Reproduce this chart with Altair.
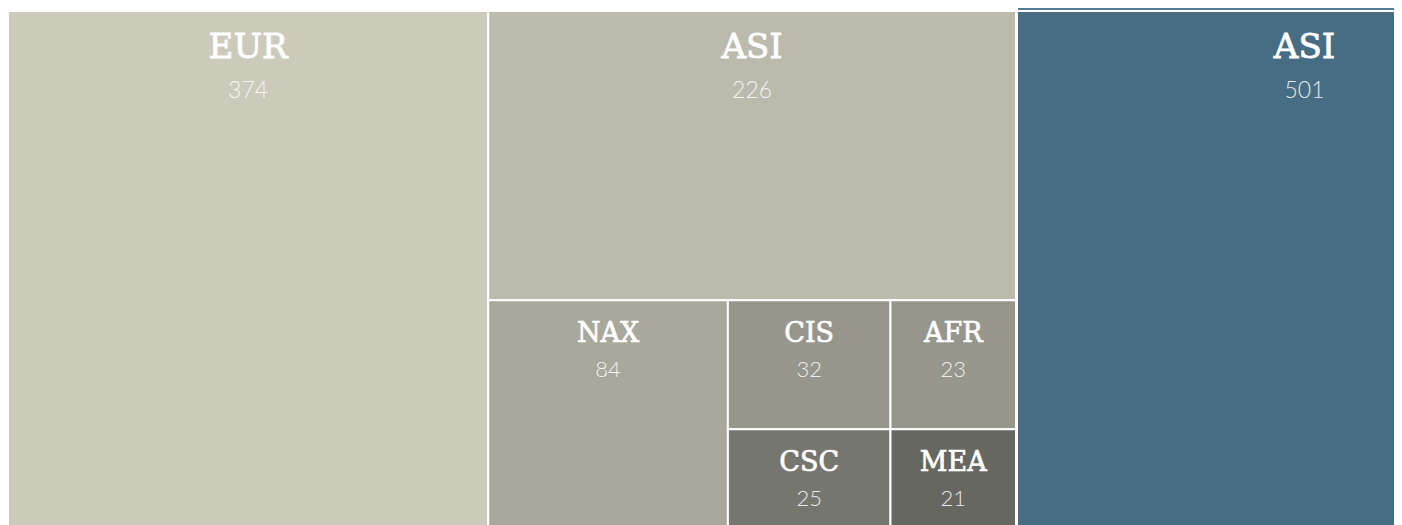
import altair as alt
import pandas as pd

# ---- data ----
gray_regions = ["EUR", "ASI", "NAX", "CIS", "AFR", "CSC", "MEA"]
gray_values = [374, 226, 84, 32, 23, 25, 21]
gray_colors = ["#cccabb", "#bbbaad", "#a8a89c", "#96968d", "#96968d", "#75766e", "#666760"]

blue_regions = ["ASI"]
blue_values = [501]
blue_colors = ["#476d84"]
header_color = "#527b94"

# ---- layout parameters (style) ----
W, H = 1386, 517            # drawing area
PANEL_TOP = 3
PANEL_H = 526
GRAY_W = 1008
BLUE_X = 1009
BLUE_W = 575
HEADER_H = 24

# treemap structure for the gray panel (indices into gray arrays)
structure = ("h", [0, ("v", [1, ("h", [2, ("grid", [[3, 4], [5, 6]])])])])


def total(node, vals):
    if isinstance(node, int):
        return vals[node]
    kind, kids = node
    if kind == "grid":
        return sum(vals[i] for row in kids for i in row)
    return sum(total(k, vals) for k in kids)


def layout(node, vals, x0, y0, x1, y1, out):
    if isinstance(node, int):
        out[node] = (x0, y0, x1, y1)
        return
    kind, kids = node
    if kind == "grid":
        rows = kids
        ncol = len(rows[0])
        col_sums = [sum(vals[r[c]] for r in rows) for c in range(ncol)]
        row_sums = [sum(vals[i] for i in r) for r in rows]
        tot = sum(row_sums)
        yy = y0
        for ri, r in enumerate(rows):
            h = (y1 - y0) * row_sums[ri] / tot
            xx = x0
            for ci, idx in enumerate(r):
                w = (x1 - x0) * col_sums[ci] / tot
                out[idx] = (xx, yy, xx + w, yy + h)
                xx += w
            yy += h
        return
    tot = total(node, vals)
    pos = x0 if kind == "h" else y0
    for k in kids:
        frac = total(k, vals) / tot
        if kind == "h":
            step = (x1 - x0) * frac
            layout(k, vals, pos, y0, pos + step, y1, out)
        else:
            step = (y1 - y0) * frac
            layout(k, vals, x0, pos, x1, pos + step, out)
        pos += step


boxes = {}
layout(structure, gray_values, 0, PANEL_TOP, GRAY_W, PANEL_TOP + PANEL_H, boxes)

rows = []
for i, (r, v, c) in enumerate(zip(gray_regions, gray_values, gray_colors)):
    x0, y0, x1, y1 = boxes[i]
    rows.append(dict(region=r, value=v, color=c, x0=x0, x1=x1, y0=y0, y1=y1,
                     cx=(x0 + x1) / 2, big=v >= 100, label=True))

bt = sum(blue_values)
pos = BLUE_X
for r, v, c in zip(blue_regions, blue_values, blue_colors):
    w = BLUE_W * v / bt
    rows.append(dict(region=r, value=v, color=c, x0=pos, x1=pos + w,
                     y0=PANEL_TOP, y1=PANEL_TOP + PANEL_H,
                     cx=pos + w / 2, big=v >= 100, label=True))
    pos += w
# blue panel header strip
rows.append(dict(region="", value=0, color=header_color, x0=BLUE_X, x1=BLUE_X + BLUE_W,
                 y0=PANEL_TOP - HEADER_H, y1=PANEL_TOP, cx=BLUE_X + BLUE_W / 2,
                 big=False, label=False))

df = pd.DataFrame(rows)

xs = alt.Scale(domain=[0, W], nice=False, zero=False)
ys = alt.Scale(domain=[0, H], nice=False, zero=False, reverse=True)

base = alt.Chart(df)

rects = base.mark_rect(stroke="white", strokeWidth=2, clip=True).encode(
    x=alt.X("x0:Q", scale=xs, axis=None),
    x2="x1:Q",
    y=alt.Y("y0:Q", scale=ys, axis=None),
    y2="y1:Q",
    color=alt.Color("color:N", scale=None),
)

lab_font = "DejaVu Serif"
num_font = "Lato"

big_lab = base.transform_filter("datum.label && datum.big").mark_text(
    font=lab_font, fontSize=34, color="white", stroke="white", strokeWidth=0.8,
    align="center", baseline="alphabetic", dy=47
).encode(x=alt.X("cx:Q", scale=xs), y=alt.Y("y0:Q", scale=ys), text="region:N")

big_num = base.transform_filter("datum.label && datum.big").mark_text(
    font=num_font, fontWeight=300, fontSize=23, color="white", opacity=0.85,
    align="center", baseline="alphabetic", dy=87
).encode(x=alt.X("cx:Q", scale=xs), y=alt.Y("y0:Q", scale=ys), text="value:Q")

small_lab = base.transform_filter("datum.label && !datum.big").mark_text(
    font=lab_font, fontSize=27, color="white", stroke="white", strokeWidth=0.7,
    align="center", baseline="alphabetic", dy=42
).encode(x=alt.X("cx:Q", scale=xs), y=alt.Y("y0:Q", scale=ys), text="region:N")

small_num = base.transform_filter("datum.label && !datum.big").mark_text(
    font=num_font, fontWeight=300, fontSize=22, color="white", opacity=0.85,
    align="center", baseline="alphabetic", dy=77
).encode(x=alt.X("cx:Q", scale=xs), y=alt.Y("y0:Q", scale=ys), text="value:Q")

chart = alt.layer(rects, big_lab, big_num, small_lab, small_num).properties(
    width=W, height=H, padding=0,
    autosize=alt.AutoSizeParams(type="none"),
    background="white",
).configure_view(stroke=None)

chart.save("out.html", embed_options={"renderer": "svg", "actions": False})
